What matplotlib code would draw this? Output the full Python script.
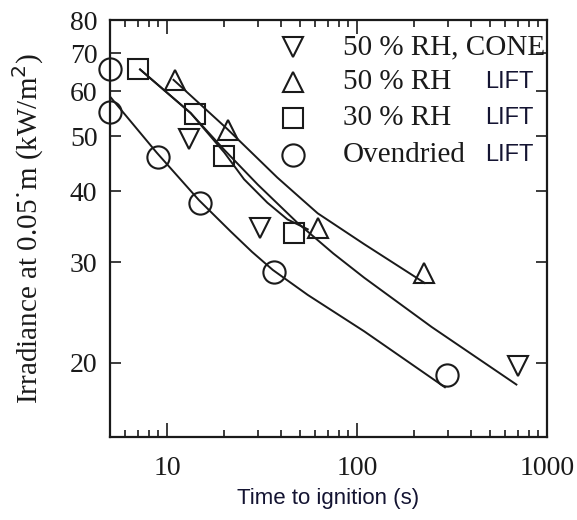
import numpy as np
import matplotlib
matplotlib.use("Agg")
from matplotlib import pyplot as plt
from matplotlib.ticker import LogLocator, NullFormatter, NullLocator, FixedLocator

# Measured points (time to ignition s, irradiance kW/m2).
cone50_t = [13.1, 31.0, 706]
cone50_q = [49.5, 34.5, 19.7]
lift50_t = [11.0, 21.0, 62.0, 226]
lift50_q = [62.7, 51.2, 34.5, 28.7]
lift30_t = [7.0, 14.1, 19.9, 46.8]
lift30_q = [65.6, 54.7, 46.2, 33.8]
oven_t = [5.0, 5.0, 9.0, 14.9, 36.6, 298]
oven_q = [65.6, 55.1, 45.9, 38.1, 28.9, 19.0]

# Fitted curves.
fit_cone_t = [7.2, 13.3, 20, 30, 48.6, 75, 109, 247, 690]
fit_cone_q = [65.5, 54.9, 47.3, 41.1, 35.2, 31.1, 28.2, 23.1, 18.3]
fit_l30_t = [7.2, 13.3, 20, 25.4, 33.7, 43, 55]
fit_l30_q = [65.5, 54.9, 46.8, 42.0, 38.2, 35.7, 34.3]
fit_l50_t = [10.8, 20.7, 38, 50, 62, 109, 227]
fit_l50_q = [62.8, 51.5, 42.3, 39.0, 36.6, 32.3, 27.6]
fit_oven_t = [5, 8.8, 14.7, 21.6, 28, 36, 55, 109, 290]
fit_oven_q = [58.7, 46.8, 38.6, 34.0, 31.3, 29.1, 26.3, 22.7, 18.1]

y_ticks = [20, 30, 40, 50, 60, 70, 80]
legend_names = ["50 % RH, CONE", "50 % RH", "30 % RH", "Ovendried"]
legend_tags = ["", "LIFT", "LIFT", "LIFT"]
legend_markers = ["v", "^", "s", "o"]

serif = ["Liberation Serif", "DejaVu Serif"]
sans = ["Liberation Sans", "DejaVu Sans"]
ink = "#1a1a1a"
tag_ink = "#141432"

fig = plt.figure(figsize=(5.77, 5.20), dpi=100)
ax = fig.add_axes([0.1906, 0.1596, 0.7574, 0.8019])

mk = dict(linestyle="none", markerfacecolor="none", markeredgecolor=ink,
          markeredgewidth=1.5, clip_on=False, zorder=3)
ax.plot(cone50_t, cone50_q, marker="v", markersize=15, **mk)
ax.plot(lift50_t, lift50_q, marker="^", markersize=15, **mk)
ax.plot(lift30_t, lift30_q, marker="s", markersize=15, **mk)
ax.plot(oven_t, oven_q, marker="o", markersize=16, **mk)

ln = dict(color=ink, linewidth=1.4, zorder=2, solid_joinstyle="round")
ax.plot(fit_cone_t, fit_cone_q, **ln)
ax.plot(fit_l30_t, fit_l30_q, **ln)
ax.plot(fit_l50_t, fit_l50_q, **ln)
ax.plot(fit_oven_t, fit_oven_q, **ln)

ax.set_xscale("log")
ax.set_yscale("log")
ax.set_xlim(5, 1000)
ax.set_ylim(14.8, 80)

ax.xaxis.set_minor_locator(LogLocator(base=10, subs=np.arange(2, 10)))
ax.xaxis.set_minor_formatter(NullFormatter())
ax.set_xticks([10, 100, 1000])
ax.set_xticklabels(["10", "100", "1000"])
ax.yaxis.set_major_locator(FixedLocator(y_ticks))
ax.yaxis.set_minor_locator(NullLocator())
ax.set_yticklabels([str(v) for v in y_ticks])

ax.tick_params(axis="both", which="both", direction="in", top=True, right=True,
               color=ink, width=1.2)
ax.tick_params(axis="x", which="major", length=10, pad=14)
ax.tick_params(axis="x", which="minor", length=5)
ax.tick_params(axis="y", which="major", length=8, pad=9)
for lab in ax.get_xticklabels() + ax.get_yticklabels():
    lab.set_family(serif)
    lab.set_fontsize(20)
    lab.set_color(ink)

for s in ax.spines.values():
    s.set_linewidth(1.6)
    s.set_color(ink)

ax.set_xlabel("Time to ignition (s)", family=sans, fontsize=16,
              color=tag_ink, labelpad=5)
ax.set_ylabel("Irradiance at 0.05˙m (kW/m$^2$)", family=serif, fontsize=21,
              color=ink, labelpad=17)

# Hand-placed legend inside the axes.
rows = [0.935, 0.851, 0.765, 0.676]
for yy, name, tag, m in zip(rows, legend_names, legend_tags, legend_markers):
    ax.plot([0.419], [yy], transform=ax.transAxes, marker=m,
            markersize=15 if m != "o" else 16, **mk)
    ax.text(0.533, yy, name, transform=ax.transAxes, family=serif,
            fontsize=21, color=ink, va="center", ha="left")
    if tag:
        ax.text(0.858, yy, tag, transform=ax.transAxes, family=sans,
                fontsize=17, color=tag_ink, va="center", ha="left")

fig.savefig("out.png", dpi=100)
